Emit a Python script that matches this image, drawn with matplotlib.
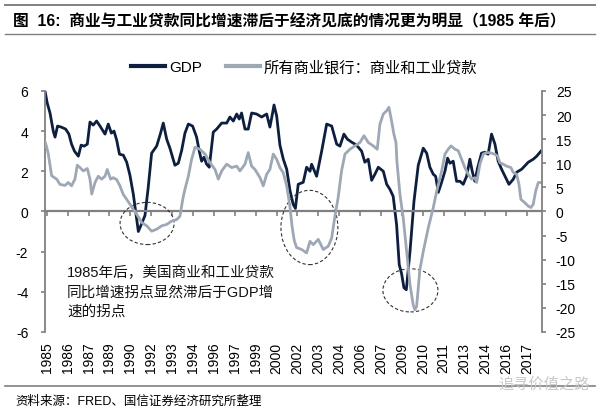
import matplotlib
matplotlib.use("Agg")
import matplotlib.pyplot as plt
from matplotlib.patches import Ellipse
from matplotlib.lines import Line2D

plt.rcParams['font.family'] = ['Liberation Sans', 'Noto Sans CJK SC']
plt.rcParams['axes.unicode_minus'] = False

# ---------------- data ----------------
# GDP yoy, % (left axis)
gdp_t = [1985.00, 1985.15, 1985.34, 1985.56, 1985.68, 1985.85, 1986.10, 1986.40, 1986.62, 1986.80,
         1987.00, 1987.26, 1987.45, 1987.65, 1987.87, 1988.05, 1988.27, 1988.50, 1988.73, 1989.07,
         1989.29, 1989.50, 1989.68, 1989.86, 1990.05, 1990.31, 1990.54, 1990.76, 1990.99, 1991.17,
         1991.33, 1991.56, 1991.78, 1992.00, 1992.23, 1992.57, 1992.82, 1993.02, 1993.25, 1993.47,
         1993.81, 1994.04, 1994.27, 1994.49, 1994.72, 1995.01, 1995.28, 1995.46, 1995.62, 1995.78,
         1995.96, 1996.14, 1996.41, 1996.64, 1996.98, 1997.32, 1997.54, 1997.77, 1998.00, 1998.17,
         1998.33, 1998.56, 1998.78, 1999.01, 1999.35, 1999.69, 2000.03, 2000.25, 2000.37, 2000.53,
         2000.71, 2000.93, 2001.16, 2001.39, 2001.61, 2001.83, 2001.98, 2002.17, 2002.51, 2002.74,
         2002.97, 2003.08, 2003.42, 2003.76, 2004.10, 2004.44, 2004.78, 2005.00, 2005.27, 2005.50,
         2005.79, 2006.02, 2006.24, 2006.47, 2006.69, 2006.92, 2007.15, 2007.37, 2007.60, 2007.94,
         2008.17, 2008.39, 2008.61, 2008.84, 2009.02, 2009.18, 2009.34, 2009.50, 2009.75, 2010.02,
         2010.31, 2010.65, 2010.88, 2011.10, 2011.33, 2011.49, 2011.67, 2011.85, 2012.12, 2012.30,
         2012.46, 2012.68, 2012.91, 2013.14, 2013.36, 2013.59, 2013.81, 2013.97, 2014.15, 2014.33,
         2014.60, 2014.83, 2015.05, 2015.28, 2015.51, 2015.73, 2015.96, 2016.19, 2016.46, 2016.75,
         2016.98, 2017.32, 2017.77, 2018.11, 2018.34, 2018.63]
gdp_v = [6.00, 5.40, 4.90, 4.00, 3.70, 4.25, 4.20, 4.10, 3.85, 3.35,
         3.00, 2.75, 3.30, 3.25, 3.35, 4.45, 4.30, 4.50, 4.25, 3.85,
         4.35, 3.90, 4.00, 3.55, 2.85, 2.80, 2.45, 1.80, 0.85, -0.15,
         -1.00, -0.60, -0.20, 1.20, 2.90, 3.25, 3.85, 4.40, 3.60, 3.15,
         2.30, 2.40, 3.05, 3.90, 4.35, 4.25, 3.70, 3.00, 2.50, 2.70,
         2.35, 2.20, 3.95, 4.10, 4.40, 4.40, 4.70, 4.50, 4.85, 4.60,
         4.90, 4.10, 4.10, 4.90, 4.85, 4.70, 4.85, 4.20, 4.65, 5.30,
         4.75, 3.30, 2.60, 2.10, 1.05, 0.35, 0.15, 1.35, 1.45, 2.20,
         2.00, 2.35, 1.75, 3.00, 4.35, 4.25, 3.35, 3.25, 3.85, 3.60,
         3.45, 3.35, 3.20, 3.00, 2.45, 2.60, 1.55, 1.85, 2.20, 2.00,
         1.35, 1.10, 0.75, -0.65, -2.65, -3.10, -3.80, -3.90, -2.00, 0.50,
         2.30, 3.15, 2.90, 2.20, 1.85, 1.75, 0.95, 1.35, 2.00, 2.65,
         2.40, 2.50, 1.50, 1.50, 1.35, 1.75, 2.60, 2.00, 1.50, 2.15,
         2.90, 2.95, 2.85, 3.85, 3.35, 2.50, 2.10, 1.75, 1.35, 1.60,
         1.95, 2.10, 2.45, 2.60, 2.75, 3.00]

# C&I loans of all commercial banks, yoy % (right axis)
loan_t = [1985.00, 1985.10, 1985.22, 1985.45, 1985.79, 1986.02, 1986.36, 1986.58, 1986.80, 1987.03,
          1987.19, 1987.37, 1987.60, 1987.87, 1988.05, 1988.17, 1988.39, 1988.61, 1988.84, 1989.07,
          1989.22, 1989.45, 1989.63, 1989.86, 1990.08, 1990.31, 1990.54, 1990.76, 1990.99, 1991.22,
          1991.56, 1991.90, 1992.23, 1992.57, 1992.91, 1993.25, 1993.59, 1993.93, 1994.15, 1994.34,
          1994.49, 1994.72, 1994.94, 1995.17, 1995.51, 1995.85, 1996.19, 1996.53, 1996.75, 1996.98,
          1997.32, 1997.66, 1998.00, 1998.22, 1998.56, 1998.78, 1999.01, 1999.24, 1999.58, 1999.80,
          2000.03, 2000.25, 2000.48, 2000.71, 2000.93, 2001.16, 2001.39, 2001.61, 2001.75, 2001.90,
          2002.06, 2002.40, 2002.74, 2002.97, 2003.19, 2003.53, 2003.87, 2004.21, 2004.44, 2004.66,
          2004.88, 2005.11, 2005.34, 2005.68, 2006.02, 2006.36, 2006.63, 2006.92, 2007.26, 2007.53,
          2007.71, 2007.94, 2008.17, 2008.32, 2008.50, 2008.66, 2008.80, 2008.86, 2009.07, 2009.29,
          2009.52, 2009.75, 2009.97, 2010.08, 2010.20, 2010.42, 2010.65, 2010.99, 2011.33, 2011.56,
          2011.90, 2012.12, 2012.34, 2012.53, 2012.80, 2013.02, 2013.25, 2013.47, 2013.70, 2013.93,
          2014.15, 2014.27, 2014.49, 2014.72, 2014.94, 2015.17, 2015.46, 2015.69, 2015.85, 2016.07,
          2016.30, 2016.59, 2016.75, 2016.98, 2017.14, 2017.27, 2017.54, 2017.77, 2017.95, 2018.11,
          2018.27, 2018.45, 2018.63]
loan_v = [14.5, 13.5, 12.0, 7.4, 6.7, 5.6, 5.4, 6.0, 5.3, 6.7,
          9.6, 9.1, 8.4, 8.9, 6.7, 3.6, 6.0, 7.3, 6.7, 7.3,
          8.7, 6.7, 7.0, 6.6, 5.3, 3.5, 2.5, 1.5, 0.4, -0.6,
          -2.3, -3.0, -4.1, -3.7, -3.0, -2.7, -2.0, -1.7, -1.0, 2.5,
          4.6, 7.3, 10.8, 13.3, 12.9, 11.9, 10.1, 8.7, 6.7, 8.4,
          9.8, 9.1, 9.4, 8.4, 9.8, 12.2, 9.4, 8.7, 7.0, 5.3,
          7.7, 8.7, 11.9, 10.8, 9.1, 8.0, 5.3, 1.0, -3.0, -6.0,
          -7.5, -7.9, -8.6, -6.2, -6.9, -5.8, -7.9, -7.2, -5.5, -1.0,
          2.9, 8.4, 11.9, 12.9, 13.6, 14.3, 15.7, 14.3, 13.6, 12.9,
          18.1, 20.2, 20.9, 21.6, 18.8, 16.0, 14.3, 10.5, 3.5, -1.3,
          -8.3, -15.2, -19.4, -20.4, -19.7, -12.1, -8.3, -3.4, 0.8, 4.2,
          8.4, 11.9, 12.9, 13.6, 12.9, 12.6, 10.8, 9.1, 7.7, 6.7,
          7.0, 6.0, 9.8, 11.9, 12.2, 12.2, 11.9, 11.5, 10.1, 9.8,
          9.4, 9.1, 8.1, 7.7, 5.6, 2.5, 1.8, 1.1, 0.8, 1.5,
          4.2, 6.0, 6.0]

x_labels = ['1985', '1986', '1987', '1989', '1990', '1992', '1993', '1994', '1996', '1997',
            '1999', '2000', '2002', '2003', '2004', '2006', '2007', '2009', '2010', '2011',
            '2013', '2014', '2016', '2017']
left_ticks = [-6, -4, -2, 0, 2, 4, 6]
right_ticks = [-25, -20, -15, -10, -5, 0, 5, 10, 15, 20, 25]

# ---------------- styling ----------------
NAVY = '#0d1e3f'
GREY_LINE = '#9da8b4'
AXIS_GREY = '#808080'

fig = plt.figure(figsize=(6, 4.1), dpi=100)
ax = fig.add_axes([0.075, 0.188, 0.8283, 0.5878])
ax2 = ax.twinx()

ax.plot(gdp_t, gdp_v, color=NAVY, lw=2.0, solid_joinstyle='round')
ax2.plot(loan_t, loan_v, color=GREY_LINE, lw=2.0, solid_joinstyle='round')

ax.set_xlim(1985.0, 2018.7)
ax.set_ylim(-6, 6)
ax2.set_ylim(-25, 25)
ax.set_yticks(left_ticks)
ax2.set_yticks(right_ticks)

# x ticks every 17 months, like the original category axis
tick_pos = [1985.12 + i * 17 / 12 for i in range(len(x_labels))]

for a in (ax, ax2):
    a.spines['top'].set_visible(False)
    a.patch.set_visible(False)
ax2.spines['bottom'].set_visible(False)
ax2.spines['left'].set_visible(False)
ax.spines['right'].set_visible(False)
ax.spines['left'].set_color(AXIS_GREY)
ax.spines['left'].set_linewidth(1.3)
ax2.spines['right'].set_color(AXIS_GREY)
ax2.spines['right'].set_linewidth(1.3)
ax.spines['bottom'].set_position(('data', 0))
ax.spines['bottom'].set_color(AXIS_GREY)
ax.spines['bottom'].set_linewidth(1.6)

ax.set_xticks(tick_pos)
ax.tick_params(axis='x', direction='out', length=3.5, width=1.2, color=AXIS_GREY, labelbottom=False)
ax.tick_params(axis='y', direction='out', length=3, width=1.2, color=AXIS_GREY, labelsize=10, pad=9)
ax2.tick_params(axis='y', direction='out', length=3, width=1.2, color=AXIS_GREY, labelsize=10, pad=7)

sec = ax.secondary_xaxis(0)
sec.set_xticks(tick_pos)
sec.set_xticklabels(x_labels, rotation=90, fontsize=10)
sec.tick_params(length=0, pad=7)
sec.spines['bottom'].set_visible(False)

# dashed circles marking the turning points
for cx, cy, w, h in [(1991.92, -0.6, 3.66, 2.1), (2002.93, -0.8, 3.86, 3.7), (2009.78, -3.93, 3.73, 2.15)]:
    ax.add_patch(Ellipse((cx, cy), w, h, fill=False, ls=(0, (3, 2)), lw=0.8, ec='#333333', zorder=5))

ax.text(1986.5, -2.65, '1985年后，美国商业和工业贷款\n同比增速拐点显然滞后于GDP增\n速的拐点',
        fontsize=10.5, va='top', ha='left', linespacing=1.5, color='#111111')

# legend
handles = [Line2D([], [], color=NAVY, lw=3), Line2D([], [], color=GREY_LINE, lw=3)]
fig.legend(handles, ['GDP', '所有商业银行：商业和工业贷款'], loc='center', bbox_to_anchor=(0.507, 0.834),
           ncol=2, frameon=False, fontsize=11, handlelength=2.2, handletextpad=0.25, columnspacing=1.6)

# title block and frame lines
fig.add_artist(Line2D([0.008, 0.992], [0.986, 0.986], color=AXIS_GREY, lw=1.4))
fig.add_artist(Line2D([0.008, 0.992], [0.915, 0.915], color=AXIS_GREY, lw=1.0))
fig.text(0.022, 0.948, '图  16:  商业与工业贷款同比增速滞后于经济见底的情况更为明显（1985 年后）',
         fontsize=11.3, fontweight='bold', va='center', ha='left')

fig.add_artist(Line2D([0.008, 0.992], [0.056, 0.056], color=AXIS_GREY, lw=1.2))
fig.text(0.025, 0.020, '资料来源：FRED、国信证券经济研究所整理', fontsize=9, va='center', ha='left')
fig.text(0.83, 0.062, '追寻价值之路', fontsize=11, color='#c8c8c8', va='center', ha='left')

fig.savefig('out.png', dpi=100)
